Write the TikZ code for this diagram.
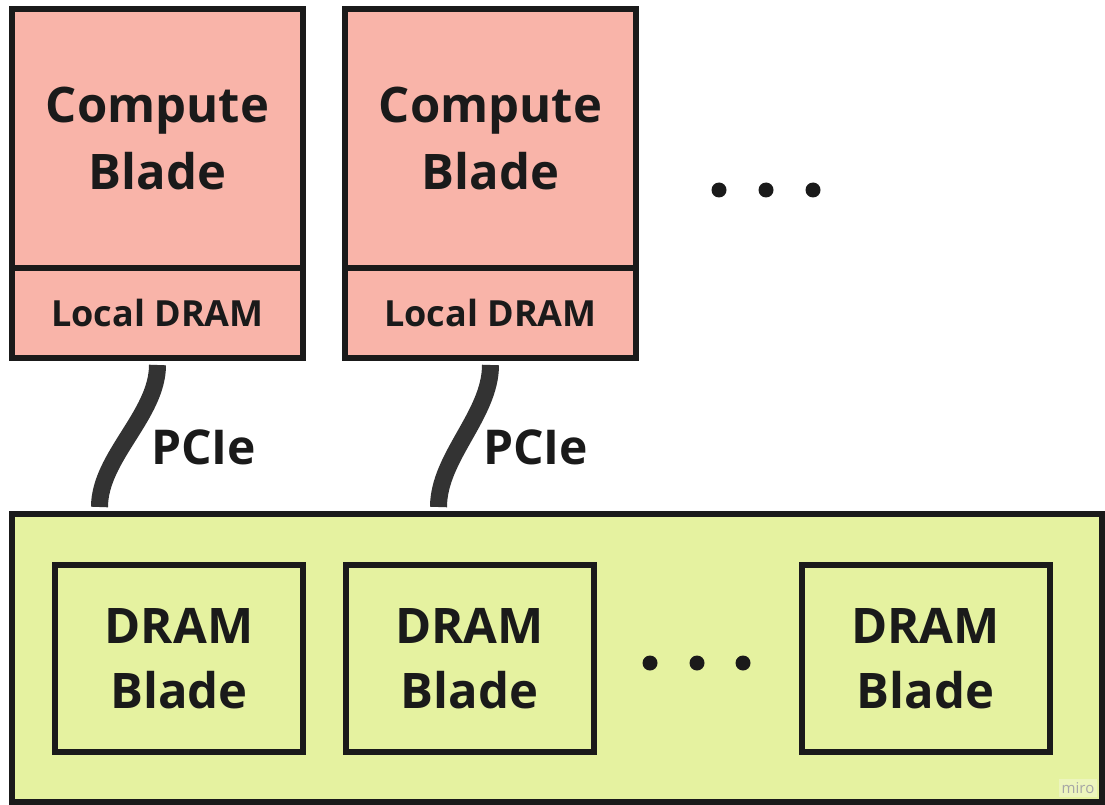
\documentclass[tikz,border=0pt]{standalone}
\usepackage{fontspec}
\setmainfont{Open Sans}
\usepackage{tikz}
\usetikzlibrary{positioning}

\definecolor{salmon}{HTML}{F9B4A9}
\definecolor{lime}{HTML}{E5F2A0}
\definecolor{ink}{HTML}{1A1A1A}
\definecolor{cable}{HTML}{333333}

\tikzset{
  blade/.style={draw=ink, line width=6pt, outer sep=0pt, inner sep=0pt, align=center, text=ink,
    font=\bfseries\fontsize{49}{67}\selectfont},
  compute/.style={blade, fill=salmon, minimum width=291pt, minimum height=259pt},
  localmem/.style={blade, fill=salmon, minimum width=291pt, minimum height=90pt,
    font=\bfseries\fontsize{36}{40}\selectfont},
  drambox/.style={blade, fill=lime, minimum width=248pt, minimum height=187pt,
    font=\bfseries\fontsize{49}{65}\selectfont},
  pcie/.style={draw=cable, line width=17pt},
  pcielabel/.style={text=ink, inner sep=0pt, font=\bfseries\fontsize{48}{50}\selectfont}
}

\begin{document}
\begin{tikzpicture}[x=1pt, y=-1pt]
\useasboundingbox (0,0) rectangle (1105,805);

% Memory pool
\node[blade, fill=lime, minimum width=1089.5pt, minimum height=287.5pt] (pool) at (556.75,657.75) {};

% Compute blades
\node[compute] (cbA) at (157.5,138.5) {Compute\\Blade};
\node[localmem, below=0pt of cbA] (ldA) {Local DRAM};
\node[compute] (cbB) at (490.5,138.5) {Compute\\Blade};
\node[localmem, below=0pt of cbB] (ldB) {Local DRAM};

% DRAM blades
\node[drambox] (dbA) at (179,658.5) {DRAM\\Blade};
\node[drambox] (dbB) at (469.5,658.5) {DRAM\\Blade};
\node[drambox] (dbC) at (925.5,658.5) {DRAM\\Blade};

% dots
\foreach \x in {719,766,813} {
    \fill[ink] (\x,190) circle (7.5);
}
\foreach \x in {650,697,743} {
    \fill[ink] (\x,663) circle (7.5);
}

% PCIe links
\coordinate (pA) at ([xshift=-58pt, yshift=7pt]pool.north -| ldA.south);
\coordinate (pB) at ([xshift=-52pt, yshift=7pt]pool.north -| ldB.south);
\draw[pcie] ([yshift=-7pt]ldA.south) .. controls +(0,50) and +(0,-50) .. (pA);
\draw[pcie] ([yshift=-7pt]ldB.south) .. controls +(0,50) and +(0,-50) .. (pB);
\node[pcielabel, anchor=base west] (lA) at (151,464) {PCIe};
\node[pcielabel, anchor=base west] (lB) at (483,464) {PCIe};

% watermark
\node[fill=white, fill opacity=0.3, text opacity=1, text=gray!70, inner sep=3pt,
  font=\fontsize{15}{15}\selectfont] (miro) at (1078,788) {miro};
\end{tikzpicture}
\end{document}
